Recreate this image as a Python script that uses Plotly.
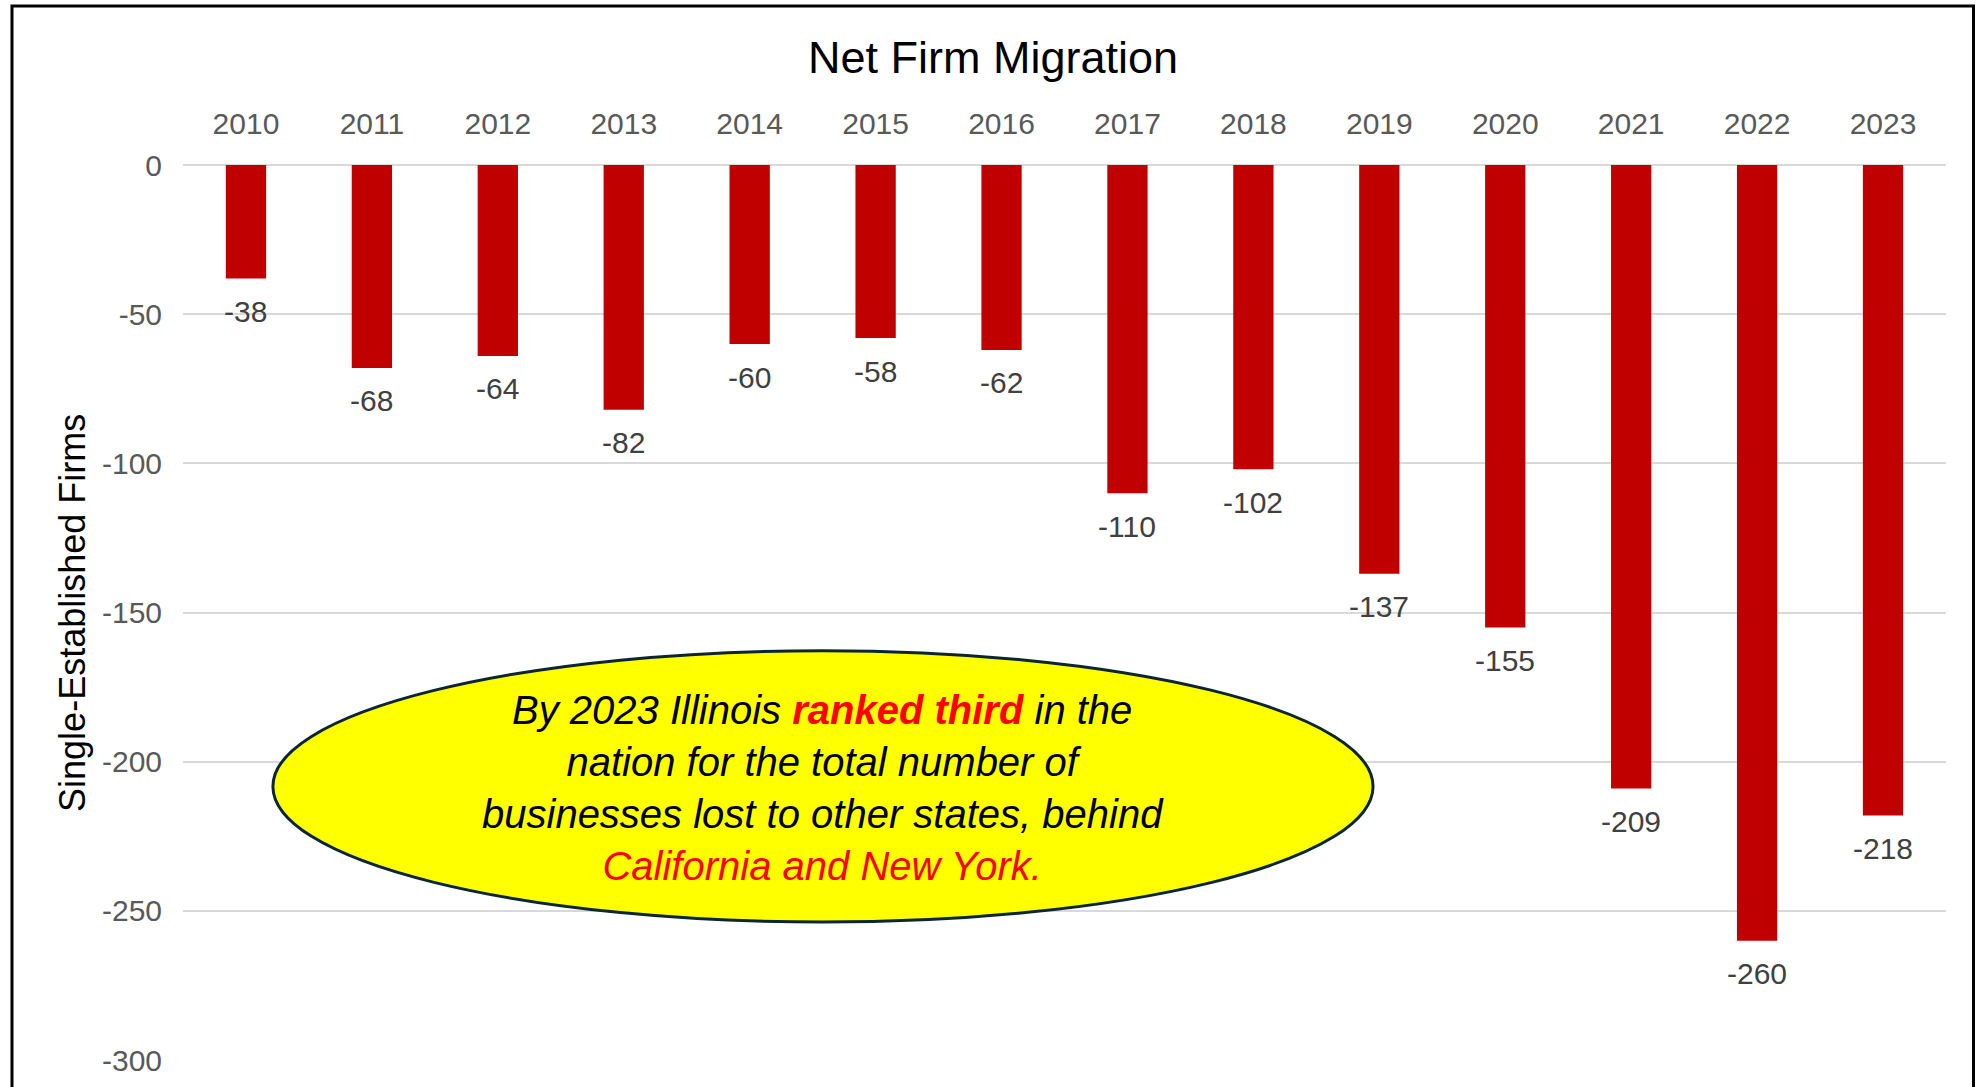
import plotly.graph_objects as go

years = ["2010", "2011", "2012", "2013", "2014", "2015", "2016",
         "2017", "2018", "2019", "2020", "2021", "2022", "2023"]
net_migration = [-38, -68, -64, -82, -60, -58, -62, -110, -102, -137, -155, -209, -260, -218]
y_ticks = [0, -50, -100, -150, -200, -250, -300]
y_tick_labels = ["0", "-50", "-100", "-150", "-200", "-250", "-300"]

bar_color = "#C00000"
tick_color = "#595959"
label_color = "#404040"
grid_color = "#D9D9D9"
font_family = "Liberation Sans, Arial, sans-serif"

fig = go.Figure()
fig.add_trace(go.Bar(x=years,
                     y=net_migration,
                     width=0.32,
                     marker=dict(color=bar_color, line=dict(width=0)),
                     hoverinfo="x+y"))

# data labels sit a fixed distance below each bar end (x given as category index)
for i, val in enumerate(net_migration):
    fig.add_annotation(x=i, y=val, yshift=-33, text=str(val), showarrow=False,
                       font=dict(family=font_family, size=30, color=label_color))

# callout bubble
fig.add_shape(type="circle", xref="paper", yref="paper",
              x0=0.051, x1=0.675, y0=0.155, y1=0.458,
              fillcolor="#FFFF00", line=dict(color="#0B2536", width=3), layer="above")
callout = ("<i>By 2023 Illinois <span style='color:#FF0000'><b>ranked third</b></span> in the<br>"
           "nation for the total number of<br>"
           "businesses lost to other states, behind<br>"
           "<span style='color:#FF0000'>California and New York.</span></i>")
fig.add_annotation(xref="paper", yref="paper", x=0.363, y=0.305, text=callout,
                   showarrow=False, align="center", xanchor="center", yanchor="middle",
                   font=dict(family=font_family, size=40, color="#000000"))

# y axis title
fig.add_annotation(xref="paper", yref="paper", x=-0.063, y=0.5, text="Single-Established Firms",
                   textangle=-90, showarrow=False, xanchor="center", yanchor="middle",
                   font=dict(family=font_family, size=36, color="#000000"))

# outer frame
fig.add_shape(type="rect", xref="paper", yref="paper",
              x0=-0.097, x1=1.0156, y0=-0.2, y1=1.1775,
              line=dict(color="#000000", width=3), fillcolor="rgba(0,0,0,0)", layer="above")

fig.update_xaxes(type="category", range=[-0.5, 13.5], side="top", automargin=False,
                 showgrid=False, showline=False, zeroline=False,
                 ticks="", ticklabelstandoff=24,
                 tickfont=dict(family=font_family, size=30, color=tick_color))
fig.update_yaxes(range=[-300.3, 0], tickmode="array", tickvals=y_ticks, ticktext=y_tick_labels,
                 automargin=False, showgrid=True, gridcolor=grid_color, gridwidth=1.5,
                 zeroline=True, zerolinecolor=grid_color, zerolinewidth=1.5,
                 showline=False, ticks="", ticklabelstandoff=20,
                 tickfont=dict(family=font_family, size=30, color=tick_color))

fig.update_layout(width=1981, height=1087, autosize=False,
                  margin=dict(l=183, r=35, t=165, b=26),
                  title=dict(text="Net Firm Migration", x=0.5013, y=0.9476,
                             xanchor="center", yanchor="middle",
                             font=dict(family=font_family, size=45, color="#000000")),
                  plot_bgcolor="#FFFFFF", paper_bgcolor="#FFFFFF",
                  showlegend=False)

# drop the browser's default body margin so the figure sits at the page corner
fig.write_html("out.html", config={"displayModeBar": False},
               post_script="document.body.style.margin='0';")
